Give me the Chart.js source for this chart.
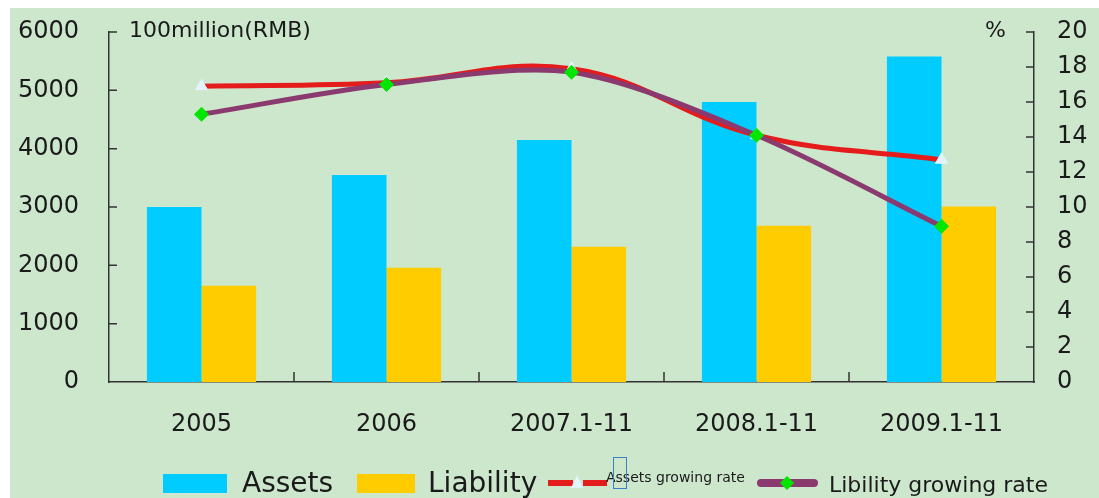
<!DOCTYPE html>
<html>
<head>
<meta charset="utf-8">
<script src="https://cdn.jsdelivr.net/npm/chart.js@4"></script>
<style>
  html, body { margin: 0; padding: 0; background: #fff; width: 1099px; height: 498px; overflow: hidden; }
  #wrap { position: absolute; left: 10px; top: 8px; width: 1089px; height: 490px; background: #cde7cd; }
  .txt { position: absolute; font-family: "DejaVu Sans", sans-serif; color: #1a1a1a; white-space: nowrap; }
  .box { position: absolute; }
</style>
</head>
<body>
<div id="wrap"><canvas id="myChart"></canvas></div>

<div class="txt" style="left:129px; top:19px; font-size:22px; line-height:22px;">100million(RMB)</div>
<div class="txt" style="left:985px; top:19px; font-size:22px; line-height:22px;">%</div>

<div class="box" style="left:163px; top:474px; width:64px; height:19px; background:#00ccff;"></div>
<div class="txt" style="left:242px; top:469px; font-size:28px; line-height:28px;">Assets</div>
<div class="box" style="left:357px; top:474px; width:58px; height:19px; background:#ffcc00;"></div>
<div class="txt" style="left:428px; top:469px; font-size:28px; line-height:28px;">Liability</div>

<div class="box" style="left:548px; top:480px; width:25px; height:6px; background:#e41c1c;"></div>
<div class="box" style="left:583px; top:480px; width:24px; height:6px; background:#e41c1c;"></div>
<div class="box" style="left:571px; top:475px; width:0; height:0; border-left:6px solid transparent; border-right:6px solid transparent; border-bottom:13px solid #e2f4fb;"></div>
<div class="txt" style="left:606px; top:470px; font-size:14px; line-height:14px;">Assets growing rate</div>
<div class="box" style="left:613px; top:457px; width:12px; height:30px; border:1.5px solid #3a80c4;"></div>

<div class="box" style="left:757px; top:479px; width:61px; height:8px; border-radius:4px; background:#8a3a6e;"></div>
<div class="box" style="left:782px; top:478px; width:10px; height:10px; background:#00e600; transform:rotate(45deg);"></div>
<div class="txt" style="left:829px; top:474px; font-size:22px; line-height:22px;">Libility growing rate</div>

<script>
const categories = ["2005", "2006", "2007.1-11", "2008.1-11", "2009.1-11"];
const assets = [3000, 3550, 4150, 4800, 5580];
const liability = [1650, 1960, 2320, 2680, 3010];
const assetsRate = [16.9, 17.1, 17.9, 14.1, 12.7];
const liabilityRate = [15.3, 17.0, 17.7, 14.1, 8.9];
const leftTicks = [0, 6000, 1000];
const rightTicks = [0, 20, 2];

const axisColor = "#333";
const tickFont = { family: "DejaVu Sans", size: 24 };

// short tick marks pointing into the plot, like the original
const inwardTicks = {
  id: "inwardTicks",
  afterDatasetsDraw(chart) {
    const { ctx, chartArea, scales } = chart;
    ctx.save();
    ctx.strokeStyle = axisColor;
    ctx.lineWidth = 1.5;
    ctx.beginPath();
    scales.y.ticks.forEach((t, i) => {
      if (i === 0) return;
      const y = scales.y.getPixelForTick(i);
      ctx.moveTo(chartArea.left, y);
      ctx.lineTo(chartArea.left + 8, y);
    });
    scales.y1.ticks.forEach((t, i) => {
      if (i === 0) return;
      const y = scales.y1.getPixelForTick(i);
      ctx.moveTo(chartArea.right, y);
      ctx.lineTo(chartArea.right - 8, y);
    });
    for (let i = 1; i < categories.length; i++) {
      const x = (scales.x.getPixelForTick(i - 1) + scales.x.getPixelForTick(i)) / 2;
      ctx.moveTo(x, chartArea.bottom);
      ctx.lineTo(x, chartArea.bottom - 10);
    }
    ctx.stroke();
    ctx.restore();
  },
};

// fixed axis sizes so the plot box lands where the original has it
const fixVertical = (w) => (s) => {
  s.width = w;
  s.paddingTop = 15;
  s.paddingBottom = 15;
};

const myChart = document.getElementById("myChart");
const newChart = new Chart(myChart, {
  type: "bar",
  data: {
    labels: categories,
    datasets: [
      {
        type: "line",
        label: "Libility growing rate",
        data: liabilityRate,
        yAxisID: "y1",
        borderColor: "#8a3a6e",
        borderWidth: 5,
        tension: 0.3,
        pointStyle: "rectRot",
        pointRadius: 7,
        pointBackgroundColor: "#00e600",
        pointBorderColor: "#00e600",
        pointBorderWidth: 1,
      },
      {
        type: "line",
        label: "Assets growing rate",
        data: assetsRate,
        yAxisID: "y1",
        borderColor: "#e41c1c",
        borderWidth: 5,
        tension: 0.4,
        pointStyle: "triangle",
        pointRadius: 7,
        pointBackgroundColor: "#e2f4fb",
        pointBorderColor: "#e2f4fb",
        pointBorderWidth: 1,
      },
      {
        label: "Assets",
        data: assets,
        yAxisID: "y",
        backgroundColor: "#00ccff",
        categoryPercentage: 0.59,
        barPercentage: 1,
      },
      {
        label: "Liability",
        data: liability,
        yAxisID: "y",
        backgroundColor: "#ffcc00",
        categoryPercentage: 0.59,
        barPercentage: 1,
      },
    ],
  },
  options: {
    responsive: true,
    maintainAspectRatio: false,
    animation: false,
    layout: { padding: { top: 24, left: 0, right: 0, bottom: 0 } },
    plugins: {
      legend: { display: false },
      tooltip: { enabled: false },
    },
    scales: {
      x: {
        grid: { display: false, drawTicks: false },
        border: { display: true, color: axisColor, width: 1.5 },
        ticks: { font: tickFont, color: "#1a1a1a", padding: 28, maxRotation: 0 },
        afterFit: (s) => { s.height = 116; },
      },
      y: {
        position: "left",
        min: leftTicks[0],
        max: leftTicks[1],
        grid: { display: false, drawTicks: false },
        border: { display: true, color: axisColor, width: 1.5 },
        ticks: { stepSize: leftTicks[2], font: tickFont, color: "#1a1a1a", padding: 30, callback: (v) => String(v) },
        afterFit: fixVertical(99),
      },
      y1: {
        position: "right",
        min: rightTicks[0],
        max: rightTicks[1],
        grid: { display: false, drawTicks: false },
        border: { display: true, color: axisColor, width: 1.5 },
        ticks: { stepSize: rightTicks[2], font: tickFont, color: "#1a1a1a", padding: 23, callback: (v) => String(v) },
        afterFit: fixVertical(65),
      },
    },
  },
  plugins: [inwardTicks],
});
</script>
</body>
</html>
